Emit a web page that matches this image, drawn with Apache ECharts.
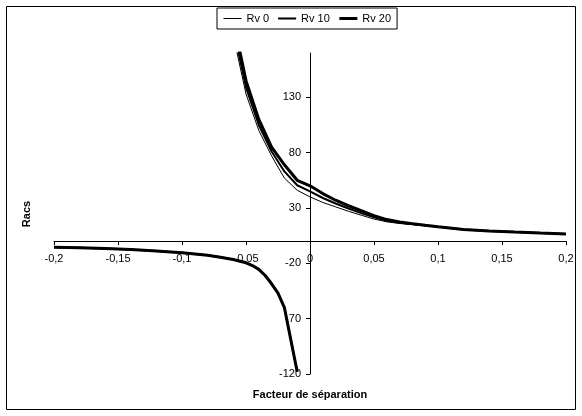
<!DOCTYPE html>
<html>
<head>
<meta charset="utf-8">
<script src="https://cdn.jsdelivr.net/npm/echarts@6/dist/echarts.min.js"></script>
<style>
html,body{margin:0;padding:0;background:#fff;}
#chart{width:582px;height:416px;}
</style>
</head>
<body>
<div id="chart"></div>
<script>
// Upper branch (x values) shared by the three series
var upperX = [-0.06, -0.05, -0.04, -0.03, -0.02, -0.01, 0, 0.01, 0.02, 0.03, 0.04, 0.05, 0.06, 0.07, 0.08, 0.09, 0.1, 0.12, 0.14, 0.16, 0.18, 0.2];
var rv0Y  = [186, 133, 100, 77, 57, 46, 40, 35, 31, 27, 23.5, 20, 17.5, 16, 15, 14, 13, 10.6, 9.3, 8.2, 7.3, 6.5];
var rv10Y = [193, 139, 105, 81, 63, 50.5, 45, 39, 34, 29.5, 25.3, 21.5, 18.5, 16.7, 15.5, 14.2, 13, 10.6, 9.3, 8.2, 7.3, 6.5];
var rv20Y = [200, 145, 110, 85, 69, 55, 50, 43, 37, 32, 27.5, 23, 19.5, 17.3, 15.8, 14.3, 13, 10.6, 9.3, 8.2, 7.3, 6.5];
// Lower branch (all three series coincide)
var lowerX = [-0.2, -0.18, -0.16, -0.14, -0.12, -0.1, -0.08, -0.07, -0.06, -0.05, -0.045, -0.04, -0.035, -0.03, -0.025, -0.02, -0.01];
var lowerY = [-5.5, -6, -6.6, -7.5, -8.8, -10.5, -12.8, -14.5, -16.5, -19.5, -22, -25.5, -31, -38.5, -47, -60, -118];
var seriesNames = ['Rv 0', 'Rv 10', 'Rv 20'];
var yTicks = [-120, -70, -20, 30, 80, 130];

function pairs(xs, ys) { return xs.map(function (x, i) { return [x, ys[i]]; }); }
function fmtX(v) { return String(+(+v).toFixed(2)).replace('.', ','); }

var font = 'Liberation Sans, Arial, sans-serif';
var chart = echarts.init(document.getElementById('chart'), null, {renderer: 'canvas'});
var upperSets = [rv0Y, rv10Y, rv20Y];
var widths = [1, 2, 3];
var series = seriesNames.map(function (n, i) {
  return {
    name: n, type: 'line', data: pairs(upperX, upperSets[i]),
    symbol: 'none', showSymbol: false, clip: true,
    lineStyle: {color: '#000', width: widths[i]}, itemStyle: {color: '#000'},
    z: 2 + i
  };
});
seriesNames.forEach(function (n, i) {
  series.push({
    name: n, type: 'line', data: pairs(lowerX, lowerY),
    symbol: 'none', showSymbol: false, clip: true,
    lineStyle: {color: '#000', width: widths[i]}, itemStyle: {color: '#000'},
    z: 2 + i
  });
});

var gridOpt = {left: 54, right: 16, top: 53, bottom: 42};
var option = {
  animation: false,
  backgroundColor: '#fff',
  textStyle: {fontFamily: font, color: '#000'},
  grid: gridOpt,
  legend: {
    data: seriesNames.map(function (n, i) {
      return {name: n, lineStyle: {width: widths[i], color: '#000'}, itemStyle: {opacity: 0, borderWidth: 0}};
    }),
    left: 217, top: 8,
    padding: [5, 6],
    itemGap: 8, itemWidth: 18, itemHeight: 12,
    borderColor: '#000', borderWidth: 1, borderRadius: 0,
    itemStyle: {opacity: 0, borderWidth: 0},
    textStyle: {fontFamily: font, fontSize: 11, color: '#000'},
    selectedMode: false
  },
  xAxis: {
    type: 'value', min: -0.2, max: 0.2, interval: 0.05, position: 'bottom', offset: 0,
    axisLine: {onZero: false, lineStyle: {color: '#000', width: 1}},
    axisTick: {show: true, inside: false, length: 4, lineStyle: {color: '#000'}},
    axisLabel: {formatter: fmtX, fontFamily: font, fontSize: 11, color: '#000', margin: 12, showMinLabel: true, showMaxLabel: true},
    splitLine: {show: false}
  },
  yAxis: {
    type: 'value', min: -120, max: 170, interval: 50, position: 'left', offset: 0,
    axisLine: {show: true, onZero: false, lineStyle: {color: '#000', width: 1}},
    axisTick: {show: true, inside: false, length: 4, lineStyle: {color: '#000'}, customValues: yTicks},
    axisLabel: {fontFamily: font, fontSize: 11, color: '#000', margin: 9, customValues: yTicks},
    splitLine: {show: false}
  },
  graphic: [
    {type: 'rect', shape: {x: 6.5, y: 6.5, width: 569, height: 403}, style: {fill: 'none', stroke: '#000', lineWidth: 1}, silent: true, z: 0},
    {type: 'text', x: 27, y: 214, rotation: Math.PI / 2, style: {text: 'Racs', font: 'bold 11px ' + font, fill: '#000', align: 'center', verticalAlign: 'middle'}},
    {type: 'text', x: 310, y: 395, style: {text: 'Facteur de séparation', font: 'bold 11px ' + font, fill: '#000', align: 'center', verticalAlign: 'middle'}}
  ],
  series: series
};
chart.setOption(option);
// Move both axes to cross at the origin using the library's own scales
var origin = chart.convertToPixel({gridIndex: 0}, [0, 0]);
var corner = chart.convertToPixel({gridIndex: 0}, [-0.2, -120]);
chart.setOption({
  xAxis: {offset: -(corner[1] - origin[1])},
  yAxis: {offset: -(origin[0] - corner[0])}
});
</script>
</body>
</html>
